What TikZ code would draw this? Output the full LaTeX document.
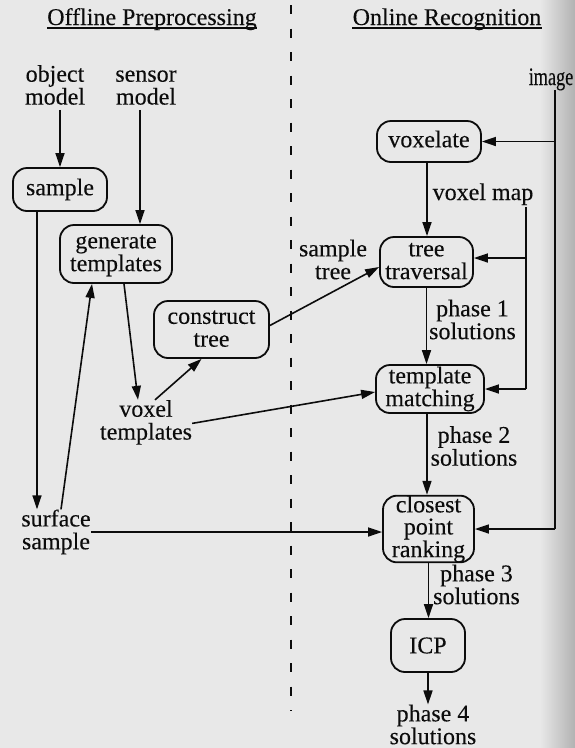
\documentclass[tikz,border=0pt]{standalone}
\usepackage{fontspec}
\setmainfont{Liberation Serif}[UprightFeatures={FakeBold=0.2}]
\usetikzlibrary{arrows.meta}
\definecolor{bg}{RGB}{232,232,232}
\definecolor{edge}{RGB}{178,178,178}
\definecolor{ink}{RGB}{12,12,12}
\newcommand\vp{\vphantom{dg}}
\begin{document}
\begin{tikzpicture}[x=1pt,y=-1pt,
  lbl/.style={inner sep=0pt, align=center, text=ink, font=\fontsize{24}{20}\selectfont},
  ttl/.style={inner sep=0pt, text=ink, font=\fontsize{24}{20}\selectfont},
  box/.style={draw=ink, line width=1.8pt, rounded corners=14pt, inner sep=0pt, align=center, text=ink, font=\fontsize{24}{20.5}\selectfont},
  conn/.style={draw=ink, line width=1.6pt},
  arr/.style={conn, -{Triangle[length=14pt,width=9pt]}},
  divider/.style={draw=ink, line width=1.5pt, dash pattern=on 9pt off 14.5pt},
]
\fill[bg] (0,0) rectangle (575,748);
\shade[left color=bg, right color=edge] (540,0) rectangle (575,748);
\useasboundingbox (0,0) rectangle (575,748);

% titles
\node[ttl, anchor=base] (t1) at (152,25) {Offline Preprocessing};
\node[ttl, anchor=base] (t2) at (447,25) {Online Recognition};
\draw[ink, line width=1.2pt] ([yshift=-3pt]t1.base west) -- ([yshift=-3pt]t1.base east);
\draw[ink, line width=1.2pt] ([yshift=-3pt]t2.base west) -- ([yshift=-3pt]t2.base east);

% divider
\draw[divider] (291,5) -- (291,711);

% offline side
\node[lbl] (om) at (55,87.4) {\vp object\\model\vp};
\node[lbl] (sm) at (146,87.4) {\vp sensor\\model\vp};
\node[box, minimum width=94pt, minimum height=43pt] (sample) at (60,189.5) {\vp sample\vp};
\node[box, minimum width=112pt, minimum height=58pt] (gen) at (116,254) {\vp generate\\templates\vp};
\node[box, minimum width=115pt, minimum height=57pt] (ct) at (211.5,329.5) {\vp construct\\tree\vp};
\node[lbl] (vt) at (146,422.4) {\vp voxel\\templates\vp};
\node[lbl] (ss) at (56,532) {\vp surface\\sample\vp};

% online side
\node[ttl, anchor=base] (img) at (551,85) {\scalebox{0.76}[1.05]{image}};
\node[box, minimum width=104pt, minimum height=41pt] (vox) at (429,141.5) {\vp voxelate\vp};
\node[ttl, anchor=base] (vm) at (483,200) {voxel map};
\node[lbl] (st) at (333,262) {\vp sample\\tree\vp};
\node[box, minimum width=93pt, minimum height=50pt] (tt) at (426.5,262) {\vp tree\\traversal\vp};
\node[lbl] (p1) at (472.5,322) {\vp phase 1\\solutions\vp};
\node[box, minimum width=108pt, minimum height=48pt] (tm) at (430,389) {\vp template\\matching\vp};
\node[lbl] (p2) at (474,448.5) {\vp phase 2\\solutions\vp};
\node[box, minimum width=91pt, minimum height=66pt, font=\fontsize{24}{18.5}\selectfont] (cp) at (428.5,529) {\vp closest\\point\\ranking\vp};
\node[lbl] (p3) at (476.5,587) {\vp phase 3\\solutions\vp};
\node[box, minimum width=74pt, minimum height=53pt] (icp) at (428,645.5) {ICP};
\node[lbl] (p4) at (433,727) {\vp phase 4\\solutions\vp};

% offline connectors
\draw[arr] (sample.north |- om.south) -- (sample.north);
\draw[arr] ([xshift=-6pt]sm.south) -- ([xshift=-6pt]sm.south |- gen.north);
\draw[arr] ([xshift=-23pt]sample.south) -- ([xshift=-23pt]sample.south |- ss.north);
\draw[arr] ([xshift=5pt]ss.north) -- ([xshift=-24pt]gen.south);
\draw[arr] ([xshift=8pt]gen.south) -- ([xshift=-8pt]vt.north);
\draw[arr] ([xshift=9pt]vt.north) -- ([xshift=-10pt]ct.south);
\draw[arr] ([yshift=4pt]ct.east) -- ([yshift=-5pt]tt.west);
\draw[arr] ([yshift=-1pt]vt.east) -- ([yshift=-3pt]tm.west);
\draw[arr] (ss.east) -- (ss.east -| cp.west);

% online connectors
\coordinate (imgtop) at ([xshift=4pt,yshift=-5pt]img.base);
\draw[conn] (imgtop) -- (imgtop |- cp.east);
\draw[arr] (imgtop |- cp.east) -- (cp.east);
\draw[arr] (imgtop |- vox.east) -- (vox.east);
\coordinate (vmtop) at ([xshift=43pt,yshift=-2pt]vm.south);
\coordinate (tte) at ([yshift=4pt]tt.east);
\draw[conn] (vmtop) -- (vmtop |- tm.east);
\draw[arr] (vmtop |- tm.east) -- (tm.east);
\draw[arr] (vmtop |- tte) -- (tte);
\draw[arr] ([xshift=-2pt]vox.south) -- ([xshift=-2pt]vox.south |- tt.north);
\draw[arr] (tt.south) -- (tt.south |- tm.north);
\draw[arr] ([xshift=-3pt]tm.south) -- ([xshift=-3pt]tm.south |- cp.north);
\draw[arr] (cp.south) -- (cp.south |- icp.north);
\draw[arr] (icp.south) -- (icp.south |- p4.north);
\end{tikzpicture}
\end{document}
